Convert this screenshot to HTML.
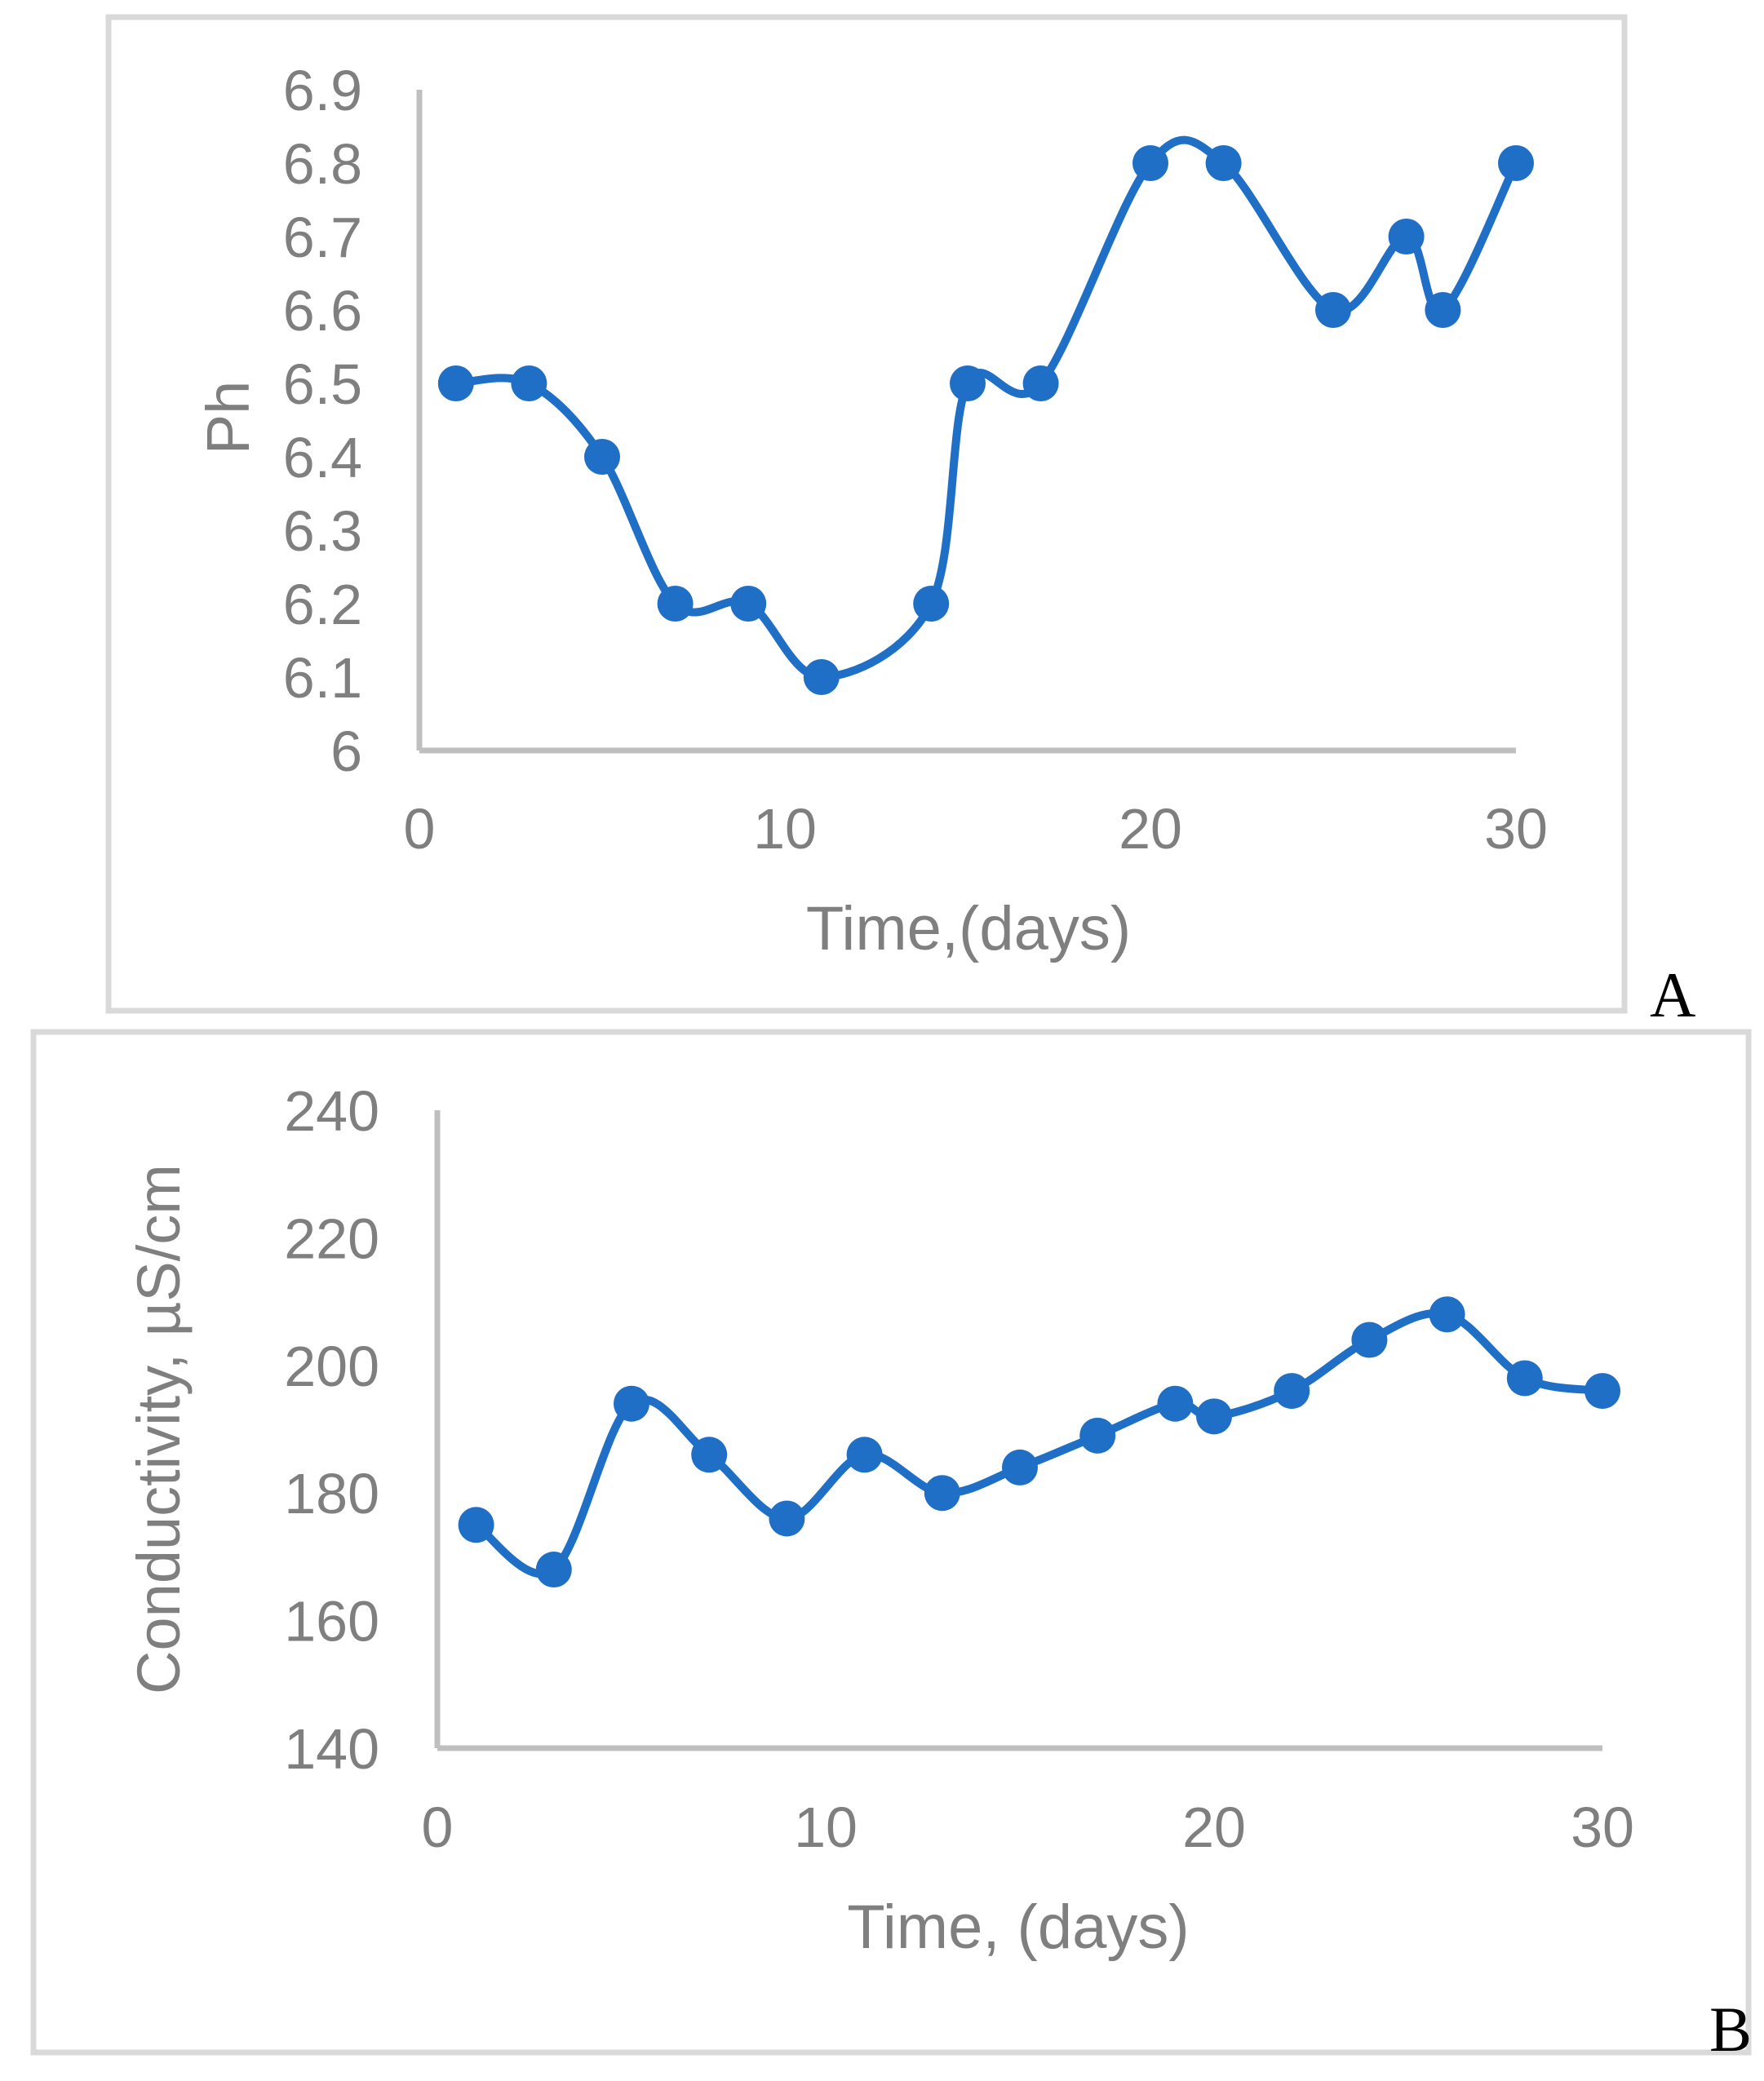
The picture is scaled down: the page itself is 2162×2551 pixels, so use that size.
<!DOCTYPE html>
<html><head><meta charset="utf-8"><style>
html,body{margin:0;padding:0;background:#fff}
svg{display:block}
text{font-family:"Liberation Sans","DejaVu Sans",sans-serif;fill:#7f7f7f}
</style></head><body>
<svg id="svg" width="2162" height="2551" viewBox="0 0 2162 2551">
<rect x="133" y="21" width="1858" height="1218" fill="none" stroke="#d9d9d9" stroke-width="7"/>
<rect x="41" y="1265" width="2102" height="1251" fill="none" stroke="#d9d9d9" stroke-width="7"/>
<text x="2022" y="1246" font-size="78" style="font-family:'Liberation Serif',serif;fill:#000">A</text>
<text x="2095" y="2514" font-size="78" style="font-family:'Liberation Serif',serif;fill:#000">B</text>
</svg>
<script>
const phDays=[1,3,5,7,9,11,14,15,17,20,22,25,27,28,30];
const phValues=[6.5,6.5,6.4,6.2,6.2,6.1,6.2,6.5,6.5,6.8,6.8,6.6,6.7,6.6,6.8];
const phYTicks=[6,6.1,6.2,6.3,6.4,6.5,6.6,6.7,6.8,6.9];
const phXTicks=[0,10,20,30];
const condDays=[1,3,5,7,9,11,13,15,17,19,20,22,24,26,28,30];
const condValues=[175,168,194,186,176,186,180,184,189,194,192,196,204,208,198,196];
const condYTicks=[140,160,180,200,220,240];
const condXTicks=[0,10,20,30];

const svg=document.getElementById('svg');
const NS='http://www.w3.org/2000/svg';
function mk(tag,attrs,txt){const e=document.createElementNS(NS,tag);for(const k in attrs)e.setAttribute(k,attrs[k]);if(txt!==undefined)e.textContent=txt;svg.appendChild(e);return e;}

function chart(c){
  const sx=v=>c.x0+(v-c.xmin)/(c.xmax-c.xmin)*(c.x1-c.x0);
  const sy=v=>c.y0-(v-c.ymin)/(c.ymax-c.ymin)*(c.y0-c.y1);
  let ax=mk('line',{x1:c.x0,y1:c.y0,x2:c.x0,y2:c.y1,stroke:'#bfbfbf','stroke-width':7});
  
  
  ax=mk('line',{x1:c.x0,y1:c.y0,x2:c.x1,y2:c.y0,stroke:'#bfbfbf','stroke-width':7});
  
  
  c.yt.forEach(v=>{
    const t=mk('text',{x:c.ylx,y:sy(v)+25,'font-size':70,'text-anchor':'end'},String(v));
    
    
  });
  c.xt.forEach(v=>{
    const t=mk('text',{x:sx(v),y:c.xly,'font-size':70,'text-anchor':'middle'},String(v));
    
    
  });
  let t=mk('text',{x:c.ytx,y:c.yty,'font-size':74,'text-anchor':'middle',transform:`rotate(-90 ${c.ytx} ${c.yty})`},c.ytitle);
  
  
  t=mk('text',{x:c.xtx,y:c.xty,'font-size':76,'text-anchor':'middle'},c.xtitle);
  
  
  const p=c.xs.map((d,i)=>[sx(d),sy(c.ys[i])]);
  let d=`M${p[0][0]},${p[0][1]}`;
  for(let i=0;i<p.length-1;i++){
    const a=p[i-1]||p[i],b=p[i],e=p[i+1],f=p[i+2]||e;
    d+=` C${b[0]+(e[0]-a[0])/6},${b[1]+(e[1]-a[1])/6} ${e[0]-(f[0]-b[0])/6},${e[1]-(f[1]-b[1])/6} ${e[0]},${e[1]}`;
  }
  const l=mk('path',{d:d,fill:'none',stroke:'#1f6fc6','stroke-width':10,'stroke-linejoin':'round'});
  
  
  p.forEach(q=>{
    const m=mk('circle',{cx:q[0],cy:q[1],r:22,fill:'#1f6fc6'});
    
    
  });
}
chart({id:'ph',x0:514,x1:1858,xmin:0,xmax:30,y0:920,y1:110,ymin:6,ymax:6.9,xs:phDays,ys:phValues,yt:phYTicks,xt:phXTicks,ylx:444,xly:1040,ytitle:'Ph',ytx:305,yty:512,xtitle:'Time,(days)',xtx:1187,xty:1164});
chart({id:'cond',x0:536,x1:1964,xmin:0,xmax:30,y0:2143,y1:1361,ymin:140,ymax:240,xs:condDays,ys:condValues,yt:condYTicks,xt:condXTicks,ylx:465,xly:2264,ytitle:'Conductivity, µS/cm',ytx:220,yty:1752,xtitle:'Time, (days)',xtx:1248,xty:2388});
</script>
</body></html>
